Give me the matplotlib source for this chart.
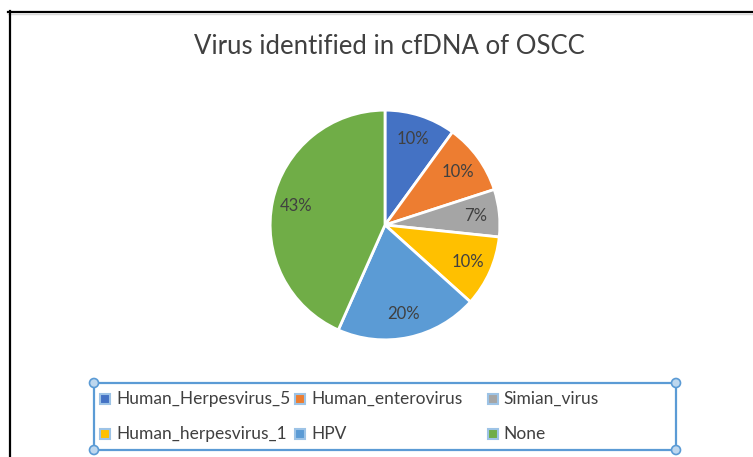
import matplotlib.pyplot as plt
import matplotlib.patches as mpatches
from matplotlib.lines import Line2D

plt.rcParams['font.family'] = ['Lato', 'DejaVu Sans']

labels = ['Human_Herpesvirus_5', 'Human_enterovirus', 'Simian_virus',
          'Human_herpesvirus_1', 'HPV', 'None']
counts = [3, 3, 2, 3, 6, 13]
colors = ['#4472C4', '#ED7D31', '#A5A5A5', '#FFC000', '#5B9BD5', '#70AD47']
title = 'Virus identified in cfDNA of OSCC'

W, H = 753, 457
fig = plt.figure(figsize=(W / 100, H / 100), dpi=100)


def fx(x):
    return x / W


def fy(y):
    return 1 - y / H


# pie axes: centre (385, 225), radius 115 px
cx, cy, r = 385, 225, 116
ax = fig.add_axes([fx(cx - r), fy(cy + r), 2 * r / W, 2 * r / H])
ax.pie(counts, colors=colors, startangle=90, counterclock=False,
       autopct='%1.0f%%', pctdistance=0.79,
       wedgeprops=dict(edgecolor='white', linewidth=2),
       textprops=dict(color='#404040', fontsize=12))
ax.set_xlim(-1.01, 1.01)
ax.set_ylim(-1.01, 1.01)
ax.set_aspect('equal')
ax.axis('off')

fig.text(fx(389), fy(47), title, ha='center', va='center',
         fontsize=18.5, color='#404040')

# chart border (top and left visible)
fig.add_artist(Line2D([fx(8), 1], [fy(11.5), fy(11.5)], color='black', lw=1.6))
fig.add_artist(Line2D([fx(8), 1], [fy(14), fy(14)], color='#d9d9d9', lw=1))
fig.add_artist(Line2D([fx(9.5), fx(9.5)], [fy(11), 0], color='black', lw=1.6))

# legend box (selected look)
x0, y0, x1, y1 = 94, 383, 676, 450
fig.add_artist(mpatches.Rectangle((fx(x0), fy(y1)), (x1 - x0) / W, (y1 - y0) / H,
                                  transform=fig.transFigure, fill=False,
                                  edgecolor='#5B9BD5', lw=1.6))
for px, py in [(x0, y0), (x1, y0), (x0, y1), (x1, y1)]:
    fig.add_artist(mpatches.Ellipse((fx(px), fy(py)), 9 / W, 9 / H,
                                    transform=fig.transFigure,
                                    facecolor='#BDD7EE', edgecolor='#5B9BD5', lw=1.2))

col_marker = [105, 300, 493]
col_text = [116, 311, 503]
row_y = [399, 434]
for i, (lab, col) in enumerate(zip(labels, colors)):
    c, rw = i % 3, i // 3
    mx, my = col_marker[c], row_y[rw]
    fig.add_artist(mpatches.Rectangle((fx(mx - 5), fy(my + 5)), 10 / W, 10 / H,
                                      transform=fig.transFigure,
                                      facecolor=col, edgecolor='#9DC3E6', lw=1.5))
    fig.text(fx(col_text[c]), fy(my), lab, ha='left', va='center',
             fontsize=12.5, color='#404040')

fig.savefig('out.png', dpi=100, facecolor='white')
